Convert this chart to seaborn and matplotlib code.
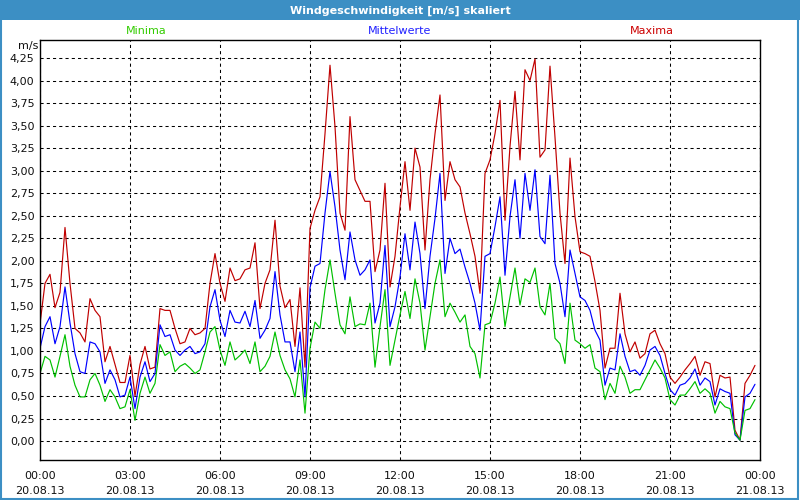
import numpy as np
import pandas as pd
import matplotlib
matplotlib.use("Agg")
import matplotlib.pyplot as plt
import matplotlib.dates as mdates
import matplotlib.patches as mpatches
import matplotlib.ticker as mticker
import seaborn as sns

# 10-Minuten-Werte vom 20.08.13
zeit = pd.date_range("2013-08-20 00:00", periods=144, freq="10min")

maxima = [
    1.30, 1.75, 1.85, 1.48, 1.65, 2.37, 1.75, 1.25, 1.20, 1.10,
    1.58, 1.45, 1.38, 0.88, 1.05, 0.85, 0.65, 0.65, 0.95, 0.50,
    0.85, 1.05, 0.80, 0.82, 1.47, 1.45, 1.45, 1.25, 1.08, 1.10,
    1.25, 1.18, 1.20, 1.25, 1.75, 2.08, 1.75, 1.55, 1.92, 1.78,
    1.80, 1.90, 1.92, 2.20, 1.47, 1.75, 1.90, 2.45, 1.72, 1.48,
    1.57, 1.05, 1.70, 0.82, 2.36, 2.56, 2.71, 3.41, 4.17, 3.49,
    2.53, 2.34, 3.60, 2.90, 2.78, 2.66, 2.66, 1.88, 2.12, 2.86,
    1.71, 2.05, 2.60, 3.10, 2.56, 3.25, 3.04, 2.12, 2.90, 3.41,
    3.84, 2.67, 3.10, 2.90, 2.82, 2.53, 2.30, 2.05, 1.64, 2.97,
    3.12, 3.41, 3.78, 2.45, 3.27, 3.88, 3.12, 4.12, 4.00, 4.24,
    3.15, 3.23, 4.16, 3.37, 2.53, 1.97, 3.14, 2.49, 2.10, 2.08,
    2.05, 1.77, 1.45, 0.81, 1.03, 1.03, 1.64, 1.19, 0.99, 1.10,
    0.92, 0.97, 1.19, 1.23, 1.08, 0.97, 0.71, 0.64, 0.71, 0.79,
    0.86, 0.94, 0.73, 0.88, 0.86, 0.49, 0.73, 0.70, 0.71, 0.12,
    0.01, 0.64, 0.73, 0.84,
]

mittelwerte = [
    1.03, 1.27, 1.38, 1.08, 1.27, 1.71, 1.31, 0.97, 0.77, 0.75,
    1.10, 1.08, 0.99, 0.64, 0.79, 0.68, 0.49, 0.51, 0.71, 0.36,
    0.71, 0.88, 0.66, 0.75, 1.29, 1.16, 1.18, 1.01, 0.95, 1.01,
    1.05, 0.97, 0.99, 1.08, 1.49, 1.68, 1.34, 1.16, 1.45, 1.32,
    1.31, 1.44, 1.27, 1.56, 1.14, 1.23, 1.36, 1.88, 1.40, 1.10,
    1.10, 0.77, 1.21, 0.49, 1.70, 1.94, 1.97, 2.53, 2.99, 2.60,
    2.12, 1.79, 2.32, 2.01, 1.84, 1.90, 2.01, 1.31, 1.53, 2.17,
    1.27, 1.49, 1.82, 2.30, 1.90, 2.43, 2.08, 1.47, 2.05, 2.47,
    2.97, 1.86, 2.25, 2.08, 2.13, 1.93, 1.75, 1.53, 1.23, 2.05,
    2.08, 2.38, 2.71, 1.84, 2.49, 2.90, 2.25, 2.97, 2.56, 3.01,
    2.27, 2.19, 2.95, 1.97, 1.75, 1.38, 2.12, 1.86, 1.60, 1.56,
    1.45, 1.23, 1.12, 0.62, 0.81, 0.79, 1.19, 0.94, 0.77, 0.79,
    0.73, 0.84, 1.01, 1.05, 0.95, 0.75, 0.57, 0.51, 0.62, 0.64,
    0.70, 0.80, 0.62, 0.70, 0.66, 0.40, 0.58, 0.55, 0.53, 0.07,
    0.01, 0.49, 0.53, 0.63,
]

minima = [
    0.75, 0.94, 0.90, 0.71, 0.94, 1.18, 0.83, 0.62, 0.49, 0.49,
    0.68, 0.75, 0.62, 0.44, 0.57, 0.49, 0.36, 0.38, 0.57, 0.23,
    0.53, 0.71, 0.53, 0.64, 1.07, 0.95, 0.99, 0.77, 0.83, 0.86,
    0.81, 0.75, 0.79, 0.99, 1.21, 1.27, 1.01, 0.84, 1.10, 0.90,
    0.95, 1.01, 0.86, 1.10, 0.77, 0.83, 0.94, 1.21, 0.95, 0.79,
    0.69, 0.49, 0.90, 0.31, 1.03, 1.32, 1.25, 1.68, 2.01, 1.64,
    1.29, 1.19, 1.60, 1.27, 1.30, 1.29, 1.53, 0.82, 1.27, 1.68,
    0.84, 1.12, 1.40, 1.66, 1.36, 1.80, 1.53, 1.01, 1.38, 1.75,
    2.01, 1.38, 1.53, 1.43, 1.32, 1.40, 1.05, 0.97, 0.70, 1.29,
    1.31, 1.53, 1.82, 1.27, 1.60, 1.92, 1.51, 1.80, 1.76, 1.92,
    1.49, 1.40, 1.75, 1.14, 1.08, 0.86, 1.53, 1.12, 1.08, 1.03,
    1.07, 0.81, 0.77, 0.46, 0.64, 0.53, 0.83, 0.71, 0.53, 0.57,
    0.57, 0.68, 0.79, 0.90, 0.81, 0.70, 0.46, 0.40, 0.51, 0.51,
    0.58, 0.66, 0.53, 0.58, 0.53, 0.31, 0.44, 0.38, 0.36, 0.09,
    0.01, 0.34, 0.36, 0.46,
]

reihen = ["Maxima", "Mittelwerte", "Minima"]
linienfarben = {"Maxima": "#c00000", "Mittelwerte": "#0000ff", "Minima": "#00c000"}
textfarben = {"Minima": "#33cc00", "Mittelwerte": "#2020ff", "Maxima": "#cc0000"}

df = pd.DataFrame({
    "Zeit": np.tile(zeit, 3),
    "Wert": maxima + mittelwerte + minima,
    "Reihe": ["Maxima"] * 144 + ["Mittelwerte"] * 144 + ["Minima"] * 144,
})

sns.set_style("white")
plt.rcParams["font.family"] = ["DejaVu Sans"]

fig = plt.figure(figsize=(8, 5), dpi=100)
fig.patch.set_facecolor("white")

# Titelleiste und Rahmen
fig.patches.append(mpatches.Rectangle((0, 0.96), 1, 0.04, transform=fig.transFigure,
                                      facecolor="#3c8fc4", edgecolor="none", zorder=0))
fig.patches.append(mpatches.Rectangle((0.001, 0.002), 0.997, 0.996, transform=fig.transFigure,
                                      fill=False, edgecolor="#3c8fc4", linewidth=1.5, zorder=1))
fig.text(0.5, 0.979, "Windgeschwindigkeit [m/s] skaliert", color="white",
         fontsize=8, fontweight="bold", ha="center", va="center")

ax = fig.add_axes([0.05, 0.08, 0.90, 0.84])
sns.lineplot(data=df, x="Zeit", y="Wert", hue="Reihe", hue_order=reihen,
             palette=linienfarben, estimator=None, legend=False, linewidth=0.85, ax=ax)

ax.set_xlim(pd.Timestamp("2013-08-20 00:00"), pd.Timestamp("2013-08-21 00:00"))
ax.set_ylim(-0.21, 4.45)
ax.set_xlabel("")
ax.set_ylabel("")

ax.yaxis.set_major_formatter(mticker.FuncFormatter(lambda v, p: f"{v:.2f}".replace(".", ",")))
ax.set_yticks(np.arange(0, 4.26, 0.25))
ax.xaxis.set_major_locator(mdates.HourLocator(interval=3))
ax.xaxis.set_minor_locator(mdates.HourLocator(interval=1))
ax.xaxis.set_major_formatter(mdates.DateFormatter("%H:%M\n%d.%m.%y"))

ax.tick_params(axis="y", length=0, pad=4, labelsize=8, colors="#101010")
ax.tick_params(axis="x", which="both", direction="out", length=3, width=1,
               color="black", pad=5, labelsize=8, labelcolor="#101010")
for lab in ax.get_xticklabels():
    lab.set_linespacing(1.65)

ax.grid(True, which="major", color="black", linestyle=(0, (3, 3)), linewidth=0.75)
for s in ax.spines.values():
    s.set_visible(True)
    s.set_color("black")
    s.set_linewidth(1.0)

# Legende als farbige Texte ueber dem Diagramm
fig.text(0.1825, 0.937, "Minima", color=textfarben["Minima"], fontsize=8, ha="center", va="center")
fig.text(0.50, 0.937, "Mittelwerte", color=textfarben["Mittelwerte"], fontsize=8, ha="center", va="center")
fig.text(0.815, 0.937, "Maxima", color=textfarben["Maxima"], fontsize=8, ha="center", va="center")
fig.text(0.035, 0.908, "m/s", color="#101010", fontsize=8, ha="center", va="center")

fig.savefig("out.png", dpi=100)
